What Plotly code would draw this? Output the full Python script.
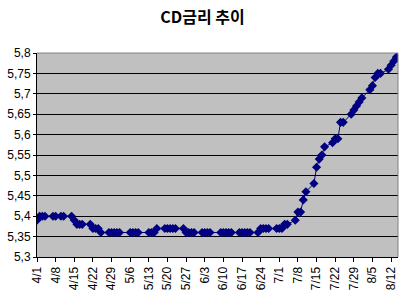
import plotly.graph_objects as go

dates = [
    "2008-04-01", "2008-04-02", "2008-04-03", "2008-04-04",
    "2008-04-07", "2008-04-08", "2008-04-10", "2008-04-11",
    "2008-04-14", "2008-04-15", "2008-04-16", "2008-04-17", "2008-04-18",
    "2008-04-21", "2008-04-22", "2008-04-23", "2008-04-24", "2008-04-25",
    "2008-04-28", "2008-04-29", "2008-04-30", "2008-05-01", "2008-05-02",
    "2008-05-06", "2008-05-07", "2008-05-08", "2008-05-09",
    "2008-05-13", "2008-05-14", "2008-05-15", "2008-05-16",
    "2008-05-19", "2008-05-20", "2008-05-21", "2008-05-22", "2008-05-23",
    "2008-05-26", "2008-05-27", "2008-05-28", "2008-05-29", "2008-05-30",
    "2008-06-02", "2008-06-03", "2008-06-04", "2008-06-05",
    "2008-06-09", "2008-06-10", "2008-06-11", "2008-06-12", "2008-06-13",
    "2008-06-16", "2008-06-17", "2008-06-18", "2008-06-19", "2008-06-20",
    "2008-06-23", "2008-06-24", "2008-06-25", "2008-06-26", "2008-06-27",
    "2008-06-30", "2008-07-01", "2008-07-02", "2008-07-03", "2008-07-04",
    "2008-07-07", "2008-07-08", "2008-07-09", "2008-07-10", "2008-07-11",
    "2008-07-14", "2008-07-15", "2008-07-16", "2008-07-17", "2008-07-18",
    "2008-07-21", "2008-07-22", "2008-07-23", "2008-07-24", "2008-07-25",
    "2008-07-28", "2008-07-29", "2008-07-30", "2008-07-31", "2008-08-01",
    "2008-08-04", "2008-08-05", "2008-08-06", "2008-08-07", "2008-08-08",
    "2008-08-11", "2008-08-12", "2008-08-13", "2008-08-14",
]

cd_rate = [
    5.39, 5.40, 5.40, 5.40,
    5.40, 5.40, 5.40, 5.40,
    5.40, 5.39, 5.38, 5.38, 5.38,
    5.38, 5.37, 5.37, 5.37, 5.36,
    5.36, 5.36, 5.36, 5.36, 5.36,
    5.36, 5.36, 5.36, 5.36,
    5.36, 5.36, 5.36, 5.37,
    5.37, 5.37, 5.37, 5.37, 5.37,
    5.37, 5.36, 5.36, 5.36, 5.36,
    5.36, 5.36, 5.36, 5.36,
    5.36, 5.36, 5.36, 5.36, 5.36,
    5.36, 5.36, 5.36, 5.36, 5.36,
    5.36, 5.37, 5.37, 5.37, 5.37,
    5.37, 5.37, 5.37, 5.38, 5.38,
    5.39, 5.41, 5.41, 5.44, 5.46,
    5.48, 5.52, 5.54, 5.55, 5.57,
    5.58, 5.59, 5.59, 5.63, 5.63,
    5.65, 5.66, 5.67, 5.68, 5.69,
    5.71, 5.72, 5.74, 5.75, 5.75,
    5.76, 5.77, 5.78, 5.79,
]

x_tick_dates = [
    "2008-04-01", "2008-04-08", "2008-04-15", "2008-04-22", "2008-04-29",
    "2008-05-06", "2008-05-13", "2008-05-20", "2008-05-27", "2008-06-03",
    "2008-06-10", "2008-06-17", "2008-06-24", "2008-07-01", "2008-07-08",
    "2008-07-15", "2008-07-22", "2008-07-29", "2008-08-05", "2008-08-12",
]
x_tick_labels = [
    "4/1", "4/8", "4/15", "4/22", "4/29", "5/6", "5/13", "5/20", "5/27", "6/3",
    "6/10", "6/17", "6/24", "7/1", "7/8", "7/15", "7/22", "7/29", "8/5", "8/12",
]
y_tick_vals = [5.3, 5.35, 5.4, 5.45, 5.5, 5.55, 5.6, 5.65, 5.7, 5.75, 5.8]
y_tick_labels = ["5,3", "5,35", "5,4", "5,45", "5,5", "5,55", "5,6", "5,65", "5,7", "5,75", "5,8"]

title_text = "<b>CD금리 추이</b>"

fig = go.Figure()
fig.add_trace(go.Scatter(
    x=dates, y=cd_rate, mode="lines+markers",
    line=dict(color="#000080", width=1),
    marker=dict(symbol="diamond", size=7, color="#000080",
                line=dict(color="#000080", width=0)),
    showlegend=False,
))

fig.update_layout(
    width=405, height=297,
    margin=dict(l=32, r=7, t=53, b=39),
    paper_bgcolor="white",
    plot_bgcolor="#C0C0C0",
    title=dict(text=title_text, x=0.5, xanchor="center", y=0.94, yanchor="middle",
               font=dict(family="Noto Sans CJK KR", size=16, color="black")),
    font=dict(family="Liberation Sans, Arial", size=12, color="black"),
    xaxis=dict(
        type="date",
        range=["2008-04-01", "2008-08-14 14:00"],
        tickvals=x_tick_dates, ticktext=x_tick_labels,
        tickangle=-90, ticks="outside", ticklen=4, tickcolor="black",
        showgrid=False, showline=True, linecolor="black", linewidth=1,
        zeroline=False, tickfont=dict(size=12),
    ),
    yaxis=dict(
        range=[5.3, 5.8],
        tickvals=y_tick_vals, ticktext=y_tick_labels,
        ticks="outside", ticklen=3, tickcolor="black",
        showgrid=True, gridcolor="black", gridwidth=1,
        showline=True, linecolor="black", linewidth=1,
        zeroline=False, tickfont=dict(size=12),
    ),
    shapes=[
        dict(type="line", xref="paper", yref="paper", x0=0, x1=1, y0=1, y1=1,
             line=dict(color="#808080", width=1), layer="above"),
        dict(type="line", xref="paper", yref="paper", x0=1, x1=1, y0=0, y1=1,
             line=dict(color="#808080", width=1), layer="above"),
    ],
)

fig.write_html("out.html")
